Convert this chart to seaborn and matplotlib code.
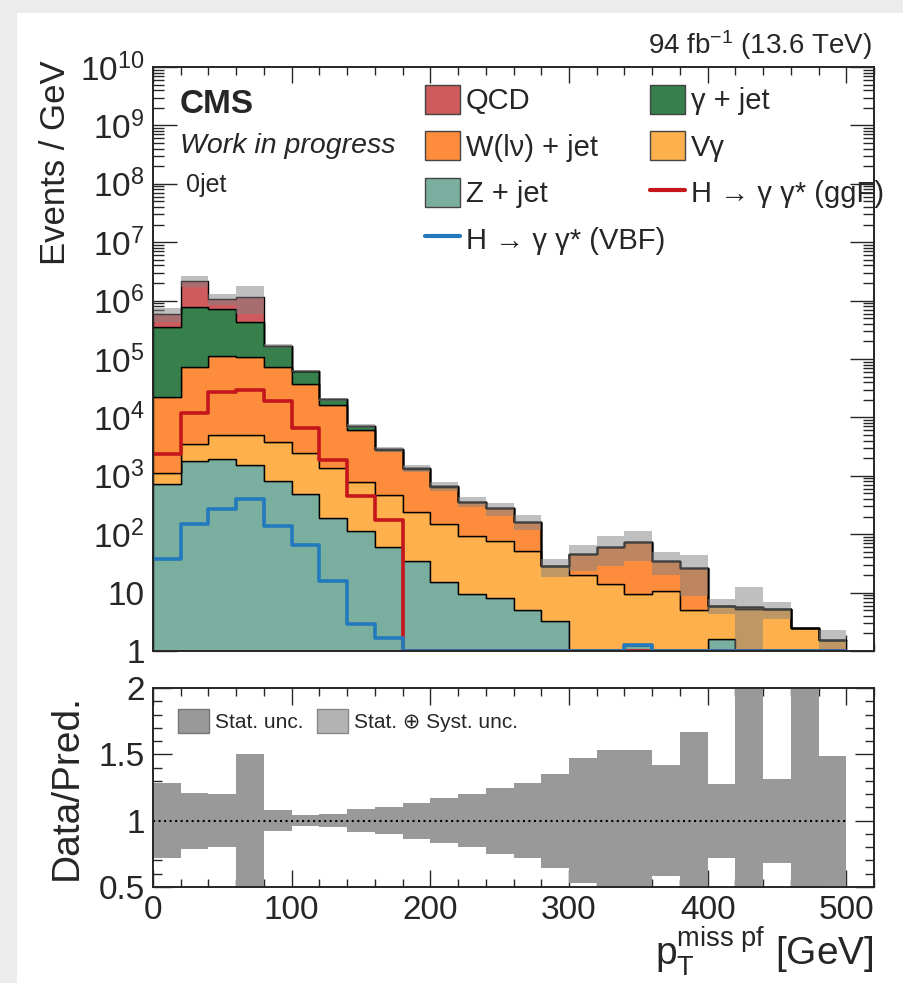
import numpy as np
import pandas as pd
import matplotlib
matplotlib.use("Agg")
import matplotlib.pyplot as plt
import seaborn as sns
from matplotlib.ticker import LogLocator, MultipleLocator, FuncFormatter, NullFormatter
from matplotlib.patches import Patch, Rectangle
from matplotlib.lines import Line2D

# ---- data (Events / GeV per 20 GeV bin) ----
bin_edges = list(range(0, 520, 20))
z_jet = [715, 1790, 1920, 1530, 800, 495, 190, 113, 61, 35, 15, 9.5, 8, 5.1, 3.2,
         0, 0, 1.25, 0, 0, 1.6, 0, 0, 0, 0]
v_gamma = [415, 1670, 3080, 3470, 3000, 1955, 1190, 667, 400, 205, 135, 85, 68, 46, 25,
           20, 14.3, 8.3, 10.8, 5.0, 4.4, 5.3, 5.25, 2.5, 1.55]
w_jet = [20900, 70500, 108000, 104000, 68000, 34500, 14900, 5200, 2280, 1060, 500, 265,
         200, 112, 0, 25, 46, 64, 24, 21.5, 0, 0.3, 0, 0, 0]
gamma_jet = [333000, 711000, 597000, 314000, 97000, 26000, 4100, 1100, 90, 40, 15, 2,
             0, 0, 0, 0, 0, 0, 0, 0, 0, 0, 0, 0, 0]
qcd = [235000, 1355000, 360000, 747000, 0, 0, 0, 0, 0, 0, 0, 0, 0, 0, 0,
       0, 0, 0, 0, 0, 0, 0, 0, 0, 0]
h_ggf = [2330, 12000, 27600, 30000, 19200, 6650, 1830, 450, 172, 0, 0, 0, 0, 0, 0,
         0, 0, 0, 0, 0, 0, 0, 0, 0, 0]
h_vbf = [37, 147, 275, 394, 140, 65, 16, 2.9, 1.7, 0, 0, 0, 0, 0, 0,
         0, 0, 1.25, 0, 0, 0, 0, 0, 0, 0]
# relative uncertainty: ratio panel band, and the grey band drawn on the stack
stat_unc = [0.285, 0.21, 0.20, 0.50, 0.08, 0.04, 0.05, 0.085, 0.10, 0.135, 0.17, 0.20,
            0.25, 0.285, 0.355, 0.47, 0.53, 0.53, 0.42, 0.67, 0.28, 1.2, 0.316, 1.2, 0.49]
band_unc = [0.285, 0.21, 0.20, 0.50, 0.08, 0.04, 0.05, 0.085, 0.10, 0.135, 0.17, 0.20,
            0.25, 0.285, 0.355, 0.47, 0.53, 0.53, 0.42, 0.67, 0.28, 1.2, 0.316, 0.0, 0.49]

stack_names = ["QCD", "γ + jet", "W(lν) + jet", "Vγ", "Z + jet"]
stack_values = [qcd, gamma_jet, w_jet, v_gamma, z_jet]
colors = {"QCD": "#cf5b5e", "γ + jet": "#377f4b", "W(lν) + jet": "#fd8d3c",
          "Vγ": "#fdb04b", "Z + jet": "#7aaf9f"}
ggf_color = "#c4161c"
vbf_color = "#2379bd"

edges = np.array(bin_edges, dtype=float)
centers = edges[:-1] + 10
df = pd.concat([pd.DataFrame({"pt": centers, "events": vals, "process": name})
                for name, vals in zip(stack_names, stack_values)], ignore_index=True)

sns.set_style("ticks")
plt.rcParams["font.family"] = ["Liberation Sans", "DejaVu Sans"]
plt.rcParams["mathtext.fontset"] = "custom"
plt.rcParams["mathtext.rm"] = "Liberation Sans"
plt.rcParams["mathtext.it"] = "Liberation Sans:italic"
plt.rcParams["mathtext.bf"] = "Liberation Sans:bold"

W, H = 904, 983
fig = plt.figure(figsize=(W / 100, H / 100), dpi=100, facecolor="#ececec")
fig.patches.append(Rectangle((17 / W, 0), 1, 1 - 13 / H, transform=fig.transFigure,
                             facecolor="white", edgecolor="none", zorder=-5))

def px_axes(left, top, right, bottom):
    a = fig.add_axes([left / W, 1 - bottom / H, (right - left) / W, (bottom - top) / H])
    a.set_zorder(2)
    return a

ax = px_axes(153, 67, 874, 651)
ax_r = px_axes(153, 688, 874, 887)

# ---- main panel ----
sns.histplot(data=df, x="pt", weights="events", hue="process", hue_order=stack_names,
             palette=colors, multiple="stack", bins=bin_edges, element="step",
             fill=True, alpha=1, edgecolor="black", linewidth=1.0, legend=False, ax=ax)

total = np.sum(np.array(stack_values, dtype=float), axis=0)
band = np.array(band_unc)
ax.stairs(total * (1 + band), edges, baseline=np.clip(total * (1 - band), 1e-3, None),
          fill=True, color="#808080", alpha=0.5, lw=0, zorder=3)

sns.histplot(x=centers, weights=np.maximum(h_ggf, 1.0), bins=bin_edges, element="step",
             fill=False, color=ggf_color, linewidth=2.6, ax=ax, zorder=4)
sns.histplot(x=centers, weights=np.maximum(h_vbf, 1.0), bins=bin_edges, element="step",
             fill=False, color=vbf_color, linewidth=2.6, ax=ax, zorder=5)

ax.set_yscale("log")
ax.set_xlim(0, 520)
ax.set_ylim(1, 1e10)
ax.yaxis.set_major_locator(LogLocator(base=10, numticks=20))
ax.yaxis.set_minor_locator(LogLocator(base=10, subs=np.arange(2, 10), numticks=200))
ax.yaxis.set_minor_formatter(NullFormatter())

def log_fmt(v, pos):
    e = int(round(np.log10(v)))
    if e == 0:
        return "1"
    if e == 1:
        return "10"
    return r"$10^{%d}$" % e

ax.yaxis.set_major_formatter(FuncFormatter(log_fmt))
ax.xaxis.set_major_locator(MultipleLocator(100))
ax.xaxis.set_minor_locator(MultipleLocator(20))
ax.tick_params(axis="x", which="major", length=11.5, width=1, direction="in",
               top=True, bottom=True, labelbottom=False)
ax.tick_params(axis="x", which="minor", length=5.8, width=1, direction="in",
               top=True, bottom=True)
ax.tick_params(axis="y", which="major", length=17, width=1, direction="in",
               left=True, right=True, labelsize=24, pad=6)
ax.tick_params(axis="y", which="minor", length=8, width=1, direction="in",
               left=True, right=True)
ax.set_xlabel("")
ax.set_ylabel("Events / GeV", fontsize=25, loc="top")
ax.yaxis.set_label_coords(-0.112, 1.012)
for s in ax.spines.values():
    s.set_linewidth(1.4)
    s.set_zorder(10)

# texts
ax.text(0.0374, 0.9366, "CMS", transform=ax.transAxes, fontsize=24,
        fontweight="bold", va="center", ha="left")
ax.text(0.0374, 0.8647, "Work in progress", transform=ax.transAxes, fontsize=20.5,
        style="italic", va="center", ha="left")
ax.text(0.0458, 0.798, "0jet", transform=ax.transAxes, fontsize=18,
        va="center", ha="left")
ax.text(0.997, 1.0377, r"94 fb$^{-1}$ (13.6 TeV)", transform=ax.transAxes,
        fontsize=20, va="center", ha="right")

# legends (two columns placed separately, as in the original)
def box(c):
    return Patch(facecolor=c, edgecolor="#444444", linewidth=1)

col1 = [box(colors["QCD"]), box(colors["W(lν) + jet"]), box(colors["Z + jet"]),
        Line2D([], [], color=vbf_color, lw=3)]
col1_lab = ["QCD", "W(lν) + jet", "Z + jet", "H → γ γ* (VBF)"]
col2 = [box(colors["γ + jet"]), box(colors["Vγ"]), Line2D([], [], color=ggf_color, lw=3)]
col2_lab = ["γ + jet", "Vγ", "H → γ γ* (ggF)"]
leg_kw = dict(loc="upper left", frameon=False, fontsize=21, handlelength=1.2,
              handleheight=1.15, handletextpad=0.2, labelspacing=0.55,
              borderpad=0, borderaxespad=0, bbox_transform=fig.transFigure)
leg1 = ax.legend(col1, col1_lab, bbox_to_anchor=(425 / W, 1 - 85 / H), **leg_kw)
ax.add_artist(leg1)
ax.legend(col2, col2_lab, bbox_to_anchor=(650 / W, 1 - 85 / H), **leg_kw)

# ---- ratio panel ----
unc = np.array(stat_unc)
ax_r.stairs(1 + unc, edges, baseline=1 - unc, fill=True, color="#999999", lw=0)
ax_r.hlines(1, 0, 500, colors="black", linestyles=":", lw=1.5)
ax_r.set_xlim(0, 520)
ax_r.set_ylim(0.5, 2)
ax_r.xaxis.set_major_locator(MultipleLocator(100))
ax_r.xaxis.set_minor_locator(MultipleLocator(20))
ax_r.yaxis.set_major_locator(MultipleLocator(0.5))
ax_r.yaxis.set_minor_locator(MultipleLocator(0.1))
ax_r.yaxis.set_major_formatter(FuncFormatter(lambda v, p: "%g" % v))
ax_r.tick_params(axis="x", which="major", length=12, width=1, direction="in",
                 top=True, bottom=True, labelsize=24, pad=6)
ax_r.tick_params(axis="x", which="minor", length=6, width=1, direction="in",
                 top=True, bottom=True)
ax_r.tick_params(axis="y", which="major", length=14, width=1, direction="in",
                 left=True, right=True, labelsize=24, pad=6)
ax_r.tick_params(axis="y", which="minor", length=6.5, width=1, direction="in",
                 left=True, right=True)
ax_r.set_ylabel("Data/Pred.", fontsize=28)
ax_r.yaxis.set_label_coords(-0.094, 0.5)
ax_r.set_xlabel(r"p$_{\mathrm{T}}^{\mathrm{miss\ pf}}$ [GeV]", fontsize=28, loc="right")
ax_r.xaxis.set_label_coords(1.0, -0.185)
for s in ax_r.spines.values():
    s.set_linewidth(1.4)

rleg = [Patch(facecolor="#999999", edgecolor="#777777"),
        Patch(facecolor="#b3b3b3", edgecolor="#888888")]
ax_r.legend(rleg, ["Stat. unc.", "Stat. ⊕ Syst. unc."], loc="upper left", ncol=2,
            frameon=False, fontsize=15, handlelength=1.5, handleheight=1.4,
            handletextpad=0.3, columnspacing=0.6, borderpad=0, borderaxespad=0,
            bbox_to_anchor=(178 / W, 1 - 709 / H), bbox_transform=fig.transFigure)

fig.savefig("out.png", dpi=100, facecolor=fig.get_facecolor())
